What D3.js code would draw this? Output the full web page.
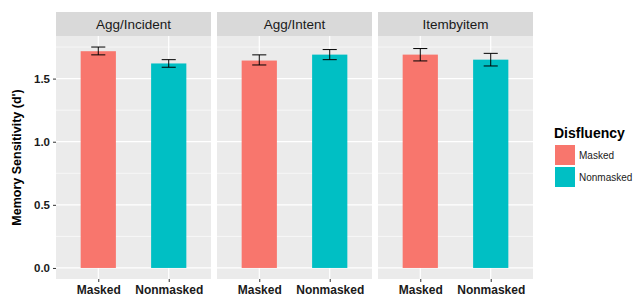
<!DOCTYPE html>
<html>
<head>
<meta charset="utf-8">
<script src="https://cdn.jsdelivr.net/npm/d3@7"></script>
<style>
  body { margin: 0; background: #fff; }
  svg { display: block; font-family: "Liberation Sans", Arial, sans-serif; }
</style>
</head>
<body>
<div id="chart"></div>
<script>
// data
var panels = ["Agg/Incident", "Agg/Intent", "Itembyitem"];
var conditions = ["Masked", "Nonmasked"];
var means = [[1.717, 1.620], [1.643, 1.690], [1.690, 1.650]];
var errLow = [[1.688, 1.590], [1.608, 1.650], [1.640, 1.600]];
var errHigh = [[1.750, 1.650], [1.688, 1.730], [1.738, 1.700]];
var yTicks = [0, 0.5, 1.0, 1.5];
var yMinor = [0.25, 0.75, 1.25, 1.75];
var colors = ["#F8766D", "#00BFC4"];

var w = 639, h = 297;
var panelLeft = [56, 217, 378];
var panelW = 155;
var stripTop = 12, stripH = 24;
var plotTop = stripTop + stripH, plotBottom = 279;

var svg = d3.select("#chart").append("svg")
  .attr("width", w).attr("height", h);

var y = d3.scaleLinear().domain([-0.0875, 1.8375]).range([plotBottom, plotTop]);

panels.forEach(function(p, pi) {
  var x0 = panelLeft[pi];
  // discrete positions 1,2 with 0.6 expansion each side
  var x = d3.scaleLinear().domain([0.4, 2.6]).range([x0, x0 + panelW]);

  var g = svg.append("g");

  // strip
  g.append("rect").attr("x", x0).attr("y", stripTop).attr("width", panelW).attr("height", stripH)
    .attr("fill", "#D9D9D9");
  g.append("text").attr("x", x0 + panelW / 2).attr("y", stripTop + stripH / 2 + 5)
    .attr("text-anchor", "middle").attr("font-size", "13.5px").attr("fill", "#1A1A1A").text(p);

  // panel background
  g.append("rect").attr("x", x0).attr("y", plotTop).attr("width", panelW).attr("height", plotBottom - plotTop)
    .attr("fill", "#EBEBEB");

  // grid
  yMinor.forEach(function(t) {
    g.append("line").attr("x1", x0).attr("x2", x0 + panelW).attr("y1", y(t)).attr("y2", y(t))
      .attr("stroke", "#fff").attr("stroke-width", 0.6);
  });
  yTicks.forEach(function(t) {
    g.append("line").attr("x1", x0).attr("x2", x0 + panelW).attr("y1", y(t)).attr("y2", y(t))
      .attr("stroke", "#fff").attr("stroke-width", 1.2);
  });
  conditions.forEach(function(c, ci) {
    g.append("line").attr("x1", x(ci + 1)).attr("x2", x(ci + 1)).attr("y1", plotTop).attr("y2", plotBottom)
      .attr("stroke", "#fff").attr("stroke-width", 1.2);
  });

  // bars
  g.selectAll(".bar").data(conditions).enter().append("rect")
    .attr("x", function(d, i) { return x(i + 1 - 0.25); })
    .attr("width", function() { return x(1.25) - x(0.75); })
    .attr("y", function(d, i) { return y(means[pi][i]); })
    .attr("height", function(d, i) { return y(0) - y(means[pi][i]); })
    .attr("fill", function(d, i) { return colors[i]; });

  // error bars
  conditions.forEach(function(c, ci) {
    var cx = x(ci + 1), hw = x(0.1) - x(0);
    var lo = y(errLow[pi][ci]), hi = y(errHigh[pi][ci]);
    g.append("line").attr("x1", cx).attr("x2", cx).attr("y1", lo).attr("y2", hi)
      .attr("stroke", "#000").attr("stroke-width", 1);
    g.append("line").attr("x1", cx - hw).attr("x2", cx + hw).attr("y1", lo).attr("y2", lo)
      .attr("stroke", "#000").attr("stroke-width", 1);
    g.append("line").attr("x1", cx - hw).attr("x2", cx + hw).attr("y1", hi).attr("y2", hi)
      .attr("stroke", "#000").attr("stroke-width", 1);
  });

  // x axis
  var xAxis = d3.axisBottom(x).tickValues([1, 2])
    .tickFormat(function(d) { return conditions[d - 1]; })
    .tickSize(3).tickPadding(3);
  var ax = g.append("g").attr("transform", "translate(0," + plotBottom + ")").call(xAxis);
  ax.select(".domain").remove();
  ax.selectAll("line").attr("stroke", "#333");
  ax.selectAll("text").attr("font-size", "12px").attr("font-weight", "bold").attr("fill", "#1A1A1A")
    .attr("font-family", "Liberation Sans, Arial, sans-serif");
});

// y axis
var yAxis = d3.axisLeft(y).tickValues(yTicks).tickFormat(d3.format(".1f")).tickSize(3).tickPadding(3);
var ay = svg.append("g").attr("transform", "translate(" + panelLeft[0] + ",0)").call(yAxis);
ay.select(".domain").remove();
ay.selectAll("line").attr("stroke", "#333");
ay.selectAll("text").attr("font-size", "11.5px").attr("font-weight", "bold").attr("fill", "#1A1A1A")
  .attr("font-family", "Liberation Sans, Arial, sans-serif");

// y title
svg.append("text")
  .attr("transform", "translate(21," + ((plotTop + plotBottom) / 2) + ") rotate(-90)")
  .attr("text-anchor", "middle").attr("font-size", "12.5px").attr("font-weight", "bold")
  .attr("fill", "#000").text("Memory Sensitivity (d')");

// legend
var lg = svg.append("g").attr("transform", "translate(554,0)");
lg.append("text").attr("x", 0).attr("y", 138).attr("font-size", "14px").attr("font-weight", "bold")
  .attr("fill", "#000").text("Disfluency");
conditions.forEach(function(c, i) {
  lg.append("rect").attr("x", 1).attr("y", 145 + i * 22).attr("width", 20).attr("height", 20)
    .attr("fill", colors[i]);
  lg.append("text").attr("x", 25).attr("y", 159 + i * 22).attr("font-size", "10px")
    .attr("fill", "#1A1A1A").text(c);
});
</script>
</body>
</html>
